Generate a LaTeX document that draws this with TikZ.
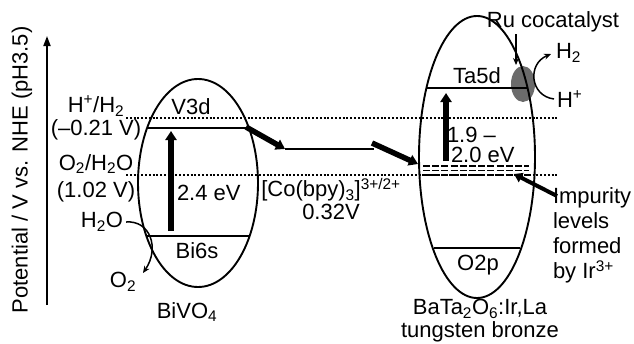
\documentclass[tikz,border=0pt]{standalone}
\usepackage{fontspec}
\setmainfont{Liberation Sans}
\usetikzlibrary{arrows.meta,shapes.geometric}
\begin{document}
\begin{tikzpicture}[x=1pt,y=-1pt,
  lbl/.style={font=\fontsize{22}{25}\selectfont, inner sep=0pt, outer sep=0pt},
  band/.style={draw, ellipse, line width=1.9pt, inner sep=0pt, outer sep=0pt},
  level/.style={line width=1.7pt},
  refline/.style={line width=2pt, dash pattern=on 2pt off 1.8pt},
  imp/.style={line width=1.6pt, dash pattern=on 7pt off 2.2pt},
  bigarrow/.style={line width=5.5pt, -{Triangle[length=9pt,width=11pt]}},
  thinarrow/.style={line width=1.5pt, -{Stealth[length=7pt,width=6pt]}},
]
\useasboundingbox (0,0) rectangle (634,343);

% axis
\coordinate (axB) at (47,305);
\coordinate (axT) at (47,36);
\draw[line width=1.7pt, -{Triangle[length=10pt,width=7pt]}] (axB) -- (axT);
\node[lbl, rotate=90] (axlbl) at (22,170) {Potential / V vs. NHE (pH3.5)};

% Ru cocatalyst blob (under the ellipse outline)
\fill[black!58] (523,84) ellipse [x radius=12, y radius=18];

% band ellipses
\node[band, minimum width=120pt, minimum height=208pt] (biv) at (198,183) {};
\node[band, minimum width=116pt, minimum height=282pt] (bta) at (477,157) {};

% reference potential lines
\coordinate (hL) at (126,118); \coordinate (hR) at (557,118);
\coordinate (oL) at (126,175); \coordinate (oR) at (557,175);
\draw[refline] (hL) -- (hR);
\draw[refline] (oL) -- (oR);

% BiVO4 levels
\coordinate (v3dL) at (147,128); \coordinate (v3dR) at (249,128);
\coordinate (bi6L) at (147,236); \coordinate (bi6R) at (249,236);
\draw[level] (v3dL) -- (v3dR);
\draw[level] (bi6L) -- (bi6R);
\node[lbl] (v3d) at (191,107) {V3d};
\node[lbl] (bi6s) at (197,251) {Bi6s};
\coordinate (ga1) at (171,231); \coordinate (ga2) at (171,131);
\draw[bigarrow] (ga1) -- (ga2);
\node[lbl, anchor=west] (eg1) at (177,193) {2.4 eV};

% BaTa2O6 levels
\coordinate (ta5L) at (427,88); \coordinate (ta5R) at (527,88);
\coordinate (o2pL) at (434,248); \coordinate (o2pR) at (520,248);
\draw[level] (ta5L) -- (ta5R);
\draw[level] (o2pL) -- (o2pR);
\node[lbl] (ta5d) at (477,76) {Ta5d};
\node[lbl] (o2p) at (478,265) {O2p};
\coordinate (gb1) at (446,161); \coordinate (gb2) at (446,93);
\draw[bigarrow] (gb1) -- (gb2);
\node[lbl, anchor=west, align=left, font=\fontsize{22}{20}\selectfont] (eg2) at (447,145) {1.9 –\\\hspace*{4pt}2.0 eV};

% impurity levels
\foreach \yy/\nm in {166/i1,170.5/i2,175/i3}{
  \coordinate (\nm L) at (423,\yy); \coordinate (\nm R) at (529,\yy);
  \draw[imp] (\nm L) -- (\nm R);
}

% labels left
\node[lbl, align=center, font=\fontsize{22}{23}\selectfont] (hh2) at (96,118) {H\textsuperscript{+}/H\textsubscript{2}\\(–0.21 V)};
\node[lbl, align=center, font=\fontsize{22}{27}\selectfont] (oh2o) at (96,178) {O\textsubscript{2}/H\textsubscript{2}O\\(1.02 V)};
\node[lbl] (h2o) at (102,222) {H\textsubscript{2}O};
\node[lbl] (o2) at (123,282) {O\textsubscript{2}};
\node[lbl] (bivlbl) at (187,312) {BiVO\textsubscript{4}};
\coordinate (o2tip) at (143,273);
\draw[thinarrow] (h2o.east) ++(3,0) .. controls (150,220) and (160,248) .. (o2tip);

% electron transfer via mediator
\coordinate (e1s) at (246,127); \coordinate (e1e) at (285,149);
\coordinate (e2s) at (374,149);
\coordinate (e3s) at (372,143); \coordinate (e3e) at (418,164);
\draw[bigarrow] (e1s) -- (e1e);
\draw[level] (e1e) -- (e2s);
\draw[bigarrow] (e3s) -- (e3e);
\node[lbl, align=center, font=\fontsize{22}{23}\selectfont] (co) at (331,199) {[Co(bpy)\textsubscript{3}]\textsuperscript{3+/2+}\\0.32V};

% Ru cocatalyst
\node[lbl] (ru) at (553,22) {Ru cocatalyst};
\coordinate (ruT) at (516,34); \coordinate (ruB) at (516,65);
\draw[thinarrow] (ruT) -- (ruB);
\node[lbl, anchor=west] (h2) at (556,53) {H\textsubscript{2}};
\node[lbl, anchor=west] (hp) at (557,99) {H\textsuperscript{+}};
\coordinate (h2tip) at (551,54);
\draw[thinarrow] (hp.west) ++(-3,0) .. controls (530,96) and (527,64) .. (h2tip);

% impurity annotation
\node[lbl, anchor=north west, align=left, font=\fontsize{22}{25}\selectfont] (implbl) at (553,188) {Impurity\\levels\\formed\\by Ir\textsuperscript{3+}};
\coordinate (impS) at (557,196); \coordinate (impE) at (514,174);
\draw[line width=4pt, -{Triangle[length=8pt,width=10pt]}] (impS) -- (impE);

% bottom label right
\node[lbl, align=center, font=\fontsize{22}{23}\selectfont] (btlbl) at (480,321) {BaTa\textsubscript{2}O\textsubscript{6}:Ir,La\\tungsten bronze};
\end{tikzpicture}
\end{document}
